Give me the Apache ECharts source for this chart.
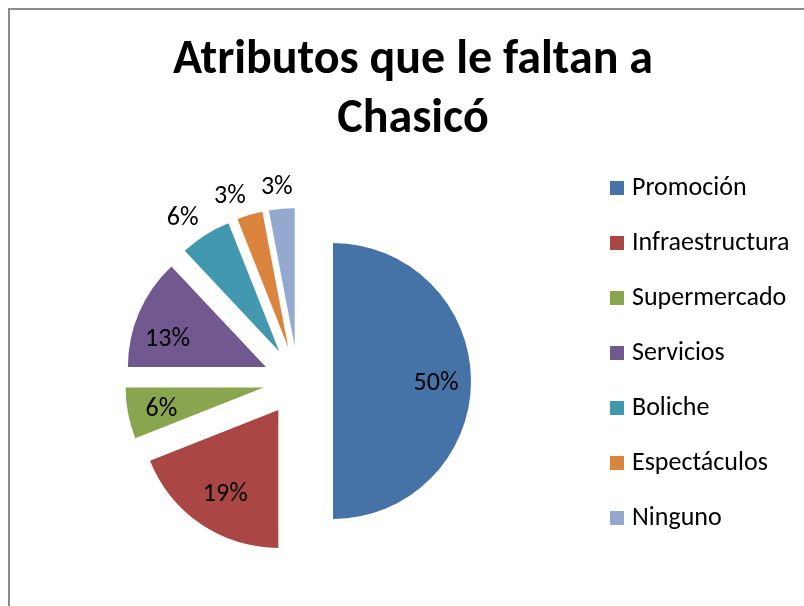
<!DOCTYPE html>
<html>
  <head>
    <meta charset='UTF-8'>
    <title>Atributos que le faltan a Chasicó</title>
    <script src="https://cdn.jsdelivr.net/npm/echarts@6/dist/echarts.min.js"></script>
    <style>
      html, body { margin: 0; padding: 0; background: #fff; }
    </style>
  </head>
  <body>
    <div id="main" style="width: 804px;height:606px;"></div>
    <script type="text/javascript">
      var categories = ['Promoción', 'Infraestructura', 'Supermercado', 'Servicios', 'Boliche', 'Espectáculos', 'Ninguno'];
      var values = [50, 19, 6, 13, 6, 3, 3];   // porcentajes
      var colors = ['#4572A7', '#AA4643', '#89A54E', '#71588F', '#4198AF', '#DB843D', '#93A9CF'];
      // etiquetas fuera del gráfico para los sectores chicos
      var outsideLabel = [false, false, false, false, true, true, true];

      var FONT = 'Carlito, Calibri, Lato, sans-serif';
      var center = [298, 381];
      var explode = 35;

      // ajustes a mano de las etiquetas
      var outLen = { 4: [20, -4], 5: [21, -2], 6: [22, -13] };   // largo de línea, distancia
      var nudge = [[-2, 2], [6, -2], [1, 2], [-2, 14], [0, 0], [0, 2], [0, 1]];  // dx, dy

      var pieData = categories.map(function (name, i) {
        return { name: name, value: values[i], selected: true, itemStyle: { color: colors[i] } };
      });

      var labelData = categories.map(function (name, i) {
        var item = { name: name, value: values[i], selected: true };
        if (outsideLabel[i]) {
          item.label = { position: 'outside', distanceToLabelLine: outLen[i][1] };
          item.labelLine = { show: false, length: outLen[i][0], length2: 0 };
        }
        return item;
      });

      var myChart = echarts.init(document.getElementById('main'));

      var option = {
        animation: false,
        backgroundColor: '#fff',
        title: {
          text: 'Atributos que le faltan a\nChasicó',
          left: 408,
          top: 26,
          textAlign: 'center',
          textStyle: {
            fontFamily: FONT,
            fontWeight: 'bold',
            fontSize: 48,
            lineHeight: 59,
            color: '#000'
          }
        },
        legend: {
          orient: 'vertical',
          left: 610,
          top: 174,
          padding: 0,
          itemWidth: 14,
          itemHeight: 14,
          itemGap: 27,
          icon: 'rect',
          selectedMode: false,
          data: categories,
          textStyle: {
            fontFamily: FONT,
            fontSize: 26,
            lineHeight: 28,
            color: '#000',
            padding: [0, 0, 0, 3]
          }
        },
        graphic: [{
          type: 'rect',
          shape: { x: 9, y: 9, width: 900, height: 700 },
          style: { fill: 'none', stroke: '#8a8a8a', lineWidth: 2 },
          silent: true
        }],
        series: [
          {
            name: 'Atributos',
            type: 'pie',
            center: center,
            radius: [0, 138],
            startAngle: 90,
            clockwise: true,
            selectedMode: 'multiple',
            selectedOffset: explode,
            avoidLabelOverlap: false,
            label: { show: false },
            labelLine: { show: false },
            emphasis: { disabled: true },
            select: { itemStyle: { borderWidth: 0 } },
            data: pieData
          },
          {
            // serie invisible solo para ubicar las etiquetas
            name: 'Etiquetas',
            type: 'pie',
            silent: true,
            center: center,
            radius: [66, 138],
            startAngle: 90,
            clockwise: true,
            selectedMode: 'multiple',
            selectedOffset: explode,
            avoidLabelOverlap: false,
            itemStyle: { color: 'rgba(0,0,0,0)' },
            select: { itemStyle: { color: 'rgba(0,0,0,0)', borderWidth: 0 } },
            emphasis: { disabled: true },
            label: {
              show: true,
              position: 'inside',
              fontFamily: FONT,
              fontSize: 26,
              color: '#000',
              formatter: function (p) { return Math.round(p.percent) + '%'; }
            },
            labelLayout: function (p) {
              return { dx: nudge[p.dataIndex][0], dy: nudge[p.dataIndex][1] };
            },
            labelLine: { show: false },
            data: labelData
          }
        ]
      };
      myChart.setOption(option, true);
    </script>
  </body>
</html>
